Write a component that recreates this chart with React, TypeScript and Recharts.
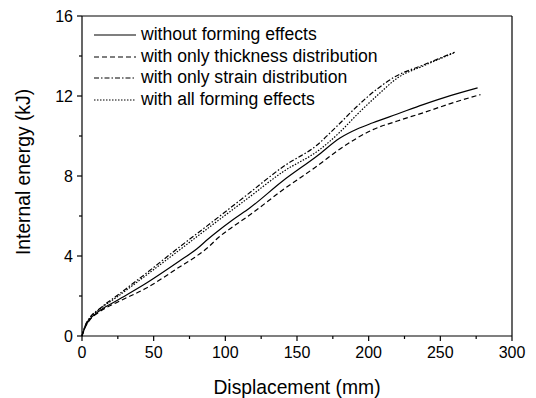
import React from 'react';
import { LineChart, Line, XAxis, YAxis, ReferenceLine, Label } from 'recharts';

// displacement (mm) / internal energy (kJ)
const noEffectX = [0, 2, 5, 12, 25, 45, 68, 80, 88, 94, 105, 117, 140, 164, 180, 192, 203, 220, 238, 257, 276];
const noEffectY = [0, 0.42, 0.8, 1.25, 1.8, 2.65, 3.75, 4.35, 4.85, 5.2, 5.8, 6.4, 7.75, 9.0, 9.9, 10.35, 10.66, 11.1, 11.57, 12.02, 12.41];

const thicknessX = [0, 2, 5, 12, 25, 45, 68, 80, 89, 94, 105, 117, 140, 164, 180, 203, 220, 238, 257, 278];
const thicknessY = [0, 0.4, 0.76, 1.2, 1.7, 2.4, 3.45, 4.0, 4.5, 4.85, 5.45, 6.05, 7.3, 8.5, 9.35, 10.32, 10.75, 11.16, 11.62, 12.07];

const strainX = [0, 2, 5, 12, 25, 45, 68, 89, 115, 140, 164, 178, 192, 205, 218, 238, 260];
const strainY = [0, 0.48, 0.88, 1.35, 2.05, 3.15, 4.45, 5.6, 7.05, 8.45, 9.55, 10.5, 11.49, 12.3, 12.95, 13.55, 14.19];

const allX = [0, 2, 5, 12, 25, 45, 68, 89, 115, 140, 166, 180, 192, 208, 220, 238, 260];
const allY = [0, 0.46, 0.85, 1.32, 1.98, 3.05, 4.3, 5.45, 6.85, 8.2, 9.33, 10.2, 11.08, 12.16, 12.9, 13.5, 14.17];

const xTicks = [0, 25, 50, 75, 100, 125, 150, 175, 200, 225, 250, 275, 300];
const yTicks = [0, 2, 4, 6, 8, 10, 12, 14, 16];

const FONT = '"Liberation Sans", Arial, sans-serif';

const zip = (xs: number[], ys: number[]) => xs.map((x, i) => ({ x, y: ys[i] }));

const series = [
  { key: 'none', name: 'without forming effects', data: zip(noEffectX, noEffectY), dash: undefined },
  { key: 'thick', name: 'with only thickness distribution', data: zip(thicknessX, thicknessY), dash: '5 3' },
  { key: 'strain', name: 'with only strain distribution', data: zip(strainX, strainY), dash: '5 2 1.5 2' },
  { key: 'all', name: 'with all forming effects', data: zip(allX, allY), dash: '1.5 1.5' },
];

const XTick = (props: any) => {
  const { x, y, payload } = props;
  const major = payload.value % 50 === 0;
  return (
    <g>
      <line x1={x} x2={x} y1={y} y2={y + (major ? 5 : 3)} stroke="#000" strokeWidth={1.2} />
      {major && (
        <text x={x} y={y + 22} textAnchor="middle" fontSize={16} fontFamily={FONT} fill="#000">
          {payload.value}
        </text>
      )}
    </g>
  );
};

const YTick = (props: any) => {
  const { x, y, payload } = props;
  const major = payload.value % 4 === 0;
  return (
    <g>
      <line x1={x} x2={x - (major ? 5 : 3)} y1={y} y2={y} stroke="#000" strokeWidth={1.2} />
      {major && (
        <text x={x - 9} y={y + 6} textAnchor="end" fontSize={16} fontFamily={FONT} fill="#000">
          {payload.value}
        </text>
      )}
    </g>
  );
};

const LegendBox = () => (
  <div
    style={{
      position: 'absolute',
      left: 92,
      top: 24,
      fontFamily: FONT,
      fontSize: 17.6,
      lineHeight: '21.7px',
      color: '#000',
    }}
  >
    {series.map(s => (
      <div key={s.key} style={{ display: 'flex', alignItems: 'center', whiteSpace: 'nowrap', height: 21.7 }}>
        <svg width={46} height={10} style={{ marginRight: 3 }}>
          <line x1={2} x2={44} y1={5} y2={5} stroke="#000" strokeWidth={1.2} strokeDasharray={s.dash} />
        </svg>
        {s.name}
      </div>
    ))}
  </div>
);

export default function App() {
  return (
    <div style={{ position: 'absolute', left: 0, top: 0, width: 536, height: 398, background: '#fff' }}>
      <LineChart width={536} height={398} margin={{ top: 16, right: 24, left: 0, bottom: 0 }}>
        <XAxis
          dataKey="x"
          type="number"
          domain={[0, 300]}
          ticks={xTicks}
          interval={0}
          tickSize={0}
          tickMargin={0}
          tickLine={false}
          tick={XTick}
          height={62}
          axisLine={{ stroke: '#000', strokeWidth: 1.2 }}
          allowDuplicatedCategory={false}
        >
          <Label
            content={(p: any) => {
              const vb = p.viewBox;
              return (
                <text x={vb.x + vb.width / 2} y={394} textAnchor="middle" fontSize={19.3} fontFamily={FONT} fill="#000">
                  Displacement (mm)
                </text>
              );
            }}
          />
        </XAxis>
        <YAxis
          type="number"
          domain={[0, 16]}
          ticks={yTicks}
          interval={0}
          tickSize={0}
          tickMargin={0}
          tickLine={false}
          tick={YTick}
          width={82}
          axisLine={{ stroke: '#000', strokeWidth: 1.2 }}
        >
          <Label
            content={(p: any) => {
              const vb = p.viewBox;
              const cy = vb.y + vb.height / 2 - 4;
              return (
                <text
                  x={30}
                  y={cy}
                  transform={`rotate(-90 30 ${cy})`}
                  textAnchor="middle"
                  fontSize={19.3}
                  fontFamily={FONT}
                  fill="#000"
                >
                  Internal energy (kJ)
                </text>
              );
            }}
          />
        </YAxis>
        <ReferenceLine y={16} stroke="#000" strokeWidth={1.2} />
        <ReferenceLine x={300} stroke="#000" strokeWidth={1.2} />
        {series.map(s => (
          <Line
            key={s.key}
            data={s.data}
            dataKey="y"
            name={s.name}
            type="monotone"
            stroke="#000"
            strokeWidth={1.2}
            strokeDasharray={s.dash}
            dot={false}
            activeDot={false}
            isAnimationActive={false}
          />
        ))}
      </LineChart>
      <LegendBox />
    </div>
  );
}
